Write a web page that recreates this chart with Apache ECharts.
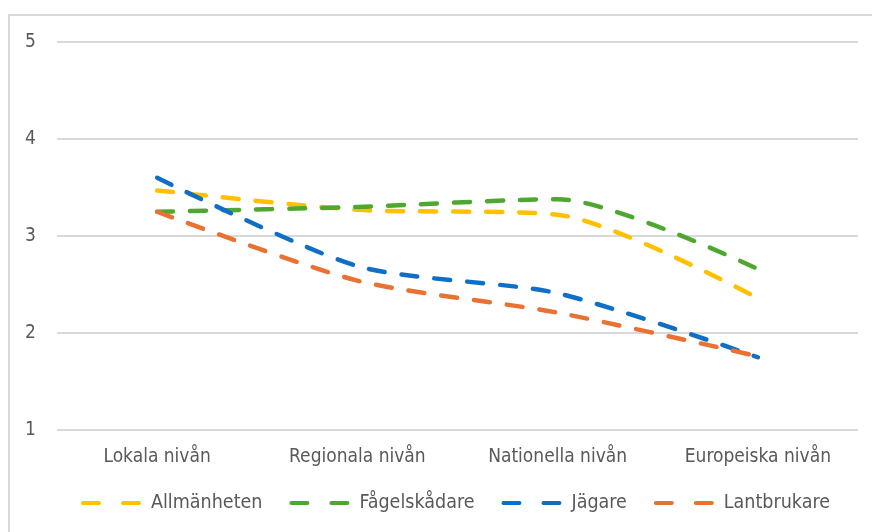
<!DOCTYPE html>
<html>
<head>
<meta charset="utf-8">
<script src="https://cdn.jsdelivr.net/npm/echarts@6/dist/echarts.min.js"></script>
<style>html,body{margin:0;padding:0;background:#fff;}#c{width:872px;height:532px;}</style>
</head>
<body>
<div id="c"></div>
<script>
var categories = ['Lokala nivån', 'Regionala nivån', 'Nationella nivån', 'Europeiska nivån'];
var seriesNames = ['Allmänheten', 'Fågelskådare', 'Jägare', 'Lantbrukare'];
var allmanheten = [3.47, 3.27, 3.22, 2.36];
var fagelskadare = [3.25, 3.30, 3.38, 2.66];
var jagare = [3.60, 2.69, 2.41, 1.75];
var lantbrukare = [3.25, 2.54, 2.21, 1.76];
var yTicks = [1, 2, 3, 4, 5];

var colors = ['#FFC000', '#4EA72E', '#0F6FC6', '#E97132'];
var values = [allmanheten, fagelskadare, jagare, lantbrukare];
var font = '"Liberation Sans Narrow", "DejaVu Sans Condensed", Roboto, sans-serif';
var icon = 'path://M2,0h16a2,2 0 0 1 0,4h-16a2,2 0 0 1 0,-4z M42,0h16a2,2 0 0 1 0,4h-16a2,2 0 0 1 0,-4z';

var chart = echarts.init(document.getElementById('c'));
chart.setOption({
  animation: false,
  backgroundColor: '#fff',
  graphic: [{
    type: 'rect', shape: {x: 9, y: 15, width: 900, height: 600},
    style: {fill: 'none', stroke: '#d9d9d9', lineWidth: 2}, silent: true
  }],
  grid: {left: 57, right: 14, top: 42, bottom: 102},
  legend: {
    data: seriesNames, bottom: 14, left: 76,
    icon: icon, itemWidth: 60, itemHeight: 4.5, itemGap: 27,
    textStyle: {fontFamily: font, fontSize: 19.5, color: '#595959', padding: [0, 0, 0, 5]}
  },
  xAxis: {
    type: 'category', data: categories, boundaryGap: true,
    axisLine: {show: false}, axisTick: {show: false},
    axisLabel: {fontFamily: font, fontSize: 19, color: '#595959', margin: 18}
  },
  yAxis: {
    type: 'value', min: yTicks[0], max: yTicks[yTicks.length - 1], interval: 1,
    axisLine: {show: false}, axisTick: {show: false},
    axisLabel: {fontFamily: font, fontSize: 19, color: '#595959', margin: 32, align: 'left'},
    splitLine: {lineStyle: {color: '#d9d9d9', width: 2}}
  },
  series: seriesNames.map(function (n, i) {
    return {
      name: n, type: 'line', data: values[i], smooth: 0.25,
      symbol: 'none', color: colors[i],
      lineStyle: {width: 4.5, type: [16, 17], cap: 'round', color: colors[i]}
    };
  })
});
</script>
</body>
</html>
